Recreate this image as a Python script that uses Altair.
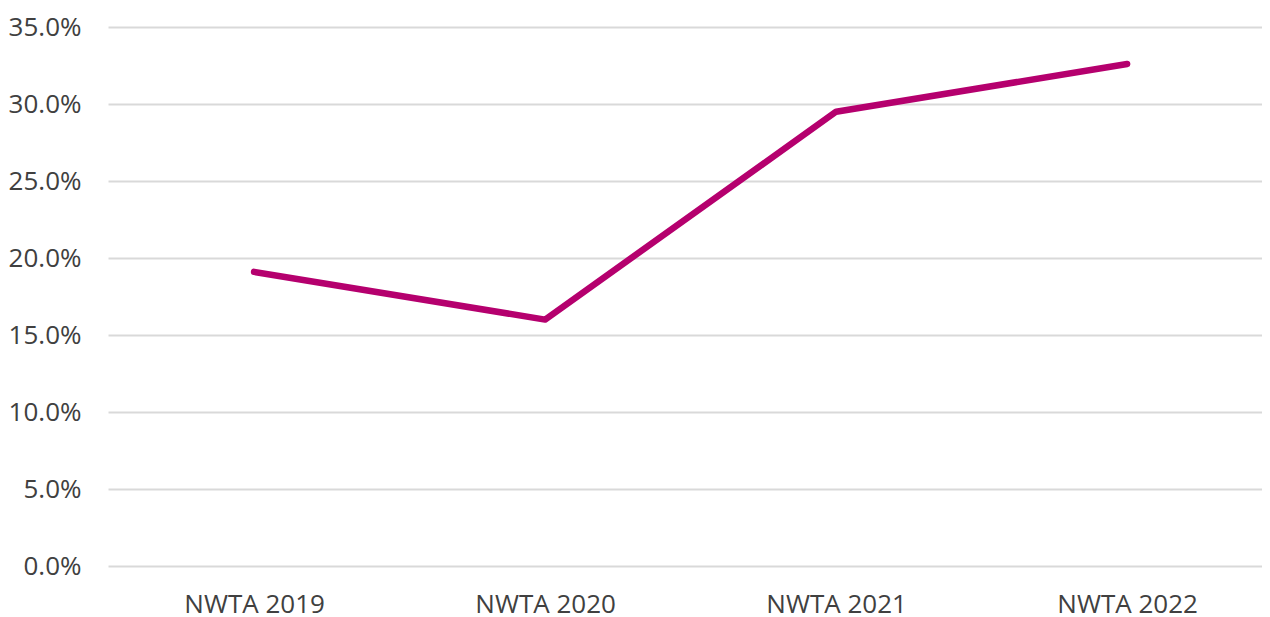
import altair as alt
import pandas as pd

categories = ["NWTA 2019", "NWTA 2020", "NWTA 2021", "NWTA 2022"]
values = [0.191, 0.160, 0.295, 0.326]
y_ticks = [0, 0.05, 0.10, 0.15, 0.20, 0.25, 0.30, 0.35]

df = pd.DataFrame({"cat": categories, "val": values})

chart = alt.Chart(df).mark_line(
    color="#B5006E", strokeWidth=6.5, strokeCap="round", strokeJoin="round"
).encode(
    x=alt.X("cat:N", sort=categories, title=None,
            scale=alt.Scale(type="point", padding=0.4828, align=0.52),
            axis=alt.Axis(labelAngle=0, ticks=False, domain=False, grid=False,
                          labelPadding=25, labelFontSize=26, labelFont="Open Sans",
                          labelColor="#404040")),
    y=alt.Y("val:Q", title=None,
            scale=alt.Scale(domain=[0, 0.35], nice=False),
            axis=alt.Axis(values=y_ticks, format=".1%", ticks=False, domain=False,
                          labelPadding=27, labelFontSize=26, labelFont="Open Sans",
                          labelColor="#404040", gridColor="#d9d9d9", gridWidth=2)),
).properties(
    width=1154, height=539,
    autosize=alt.AutoSizeParams(type="none"),
    padding={"left": 100, "top": 19, "right": 0, "bottom": 51},
).configure_view(stroke=None)

chart.save("out.html", embed_options={"renderer": "svg", "actions": False})
